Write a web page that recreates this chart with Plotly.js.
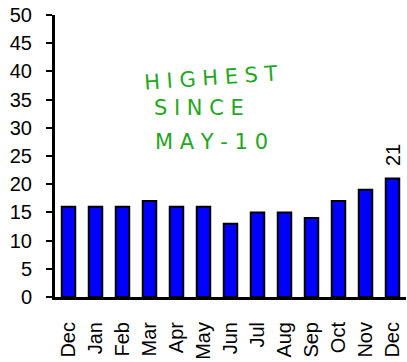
<!DOCTYPE html>
<html>
<head>
<meta charset="utf-8">
<script src="https://cdn.plot.ly/plotly-3.0.1.min.js"></script>
<style>html,body{margin:0;padding:0;background:#fff;}#chart{width:407px;height:362px;}</style>
</head>
<body>
<div id="chart"></div>
<script>
const months = ["Dec","Jan","Feb","Mar","Apr","May","Jun","Jul","Aug","Sep","Oct","Nov","Dec"];
const values = [16,16,16,17,16,16,13,15,15,14,17,19,21];
const yTicks = [0,5,10,15,20,25,30,35,40,45,50];
const noteLines = ["H I G H E S T","S I N C E","M A Y - 1 0"];
const labelIndex = 12;

const xs = months.map((m,i)=>i);

const trace = {
  type: 'bar',
  x: xs,
  y: values,
  marker: {color: '#0000ff', line: {color: '#000000', width: 2}},
  hoverinfo: 'none'
};

const noteFont = {family: 'DejaVu Sans, sans-serif', size: 21, color: '#1ea81e'};

const layout = {
  width: 407, height: 362,
  margin: {l: 55, r: 1, t: 15, b: 65, pad: 0},
  paper_bgcolor: '#fff', plot_bgcolor: '#fff',
  showlegend: false,
  bargap: 0.5,
  font: {family: 'Liberation Sans, Arial, sans-serif', size: 20, color: '#000'},
  xaxis: {
    tickmode: 'array', tickvals: xs, ticktext: months,
    tickangle: -90, ticks: '', range: [-0.5, 12.5],
    ticklabelstandoff: 14,
    showline: true, linecolor: '#000', linewidth: 3,
    showgrid: false, zeroline: false, fixedrange: true
  },
  yaxis: {
    range: [0, 50], tickmode: 'array', tickvals: yTicks,
    ticks: 'outside', ticklen: 6, tickwidth: 2, tickcolor: '#000',
    ticklabelstandoff: 10,
    showline: true, linecolor: '#000', linewidth: 3,
    showgrid: false, zeroline: false, fixedrange: true
  },
  annotations: [
    {x: xs[labelIndex], y: values[labelIndex], xref: 'x', yref: 'y',
     text: String(values[labelIndex]), textangle: -90, showarrow: false,
     yanchor: 'bottom', yshift: 10, font: {size: 20, color: '#000'}},
    {xref: 'paper', yref: 'paper', x: 0.245, y: 0.777, xanchor: 'left', yanchor: 'middle',
     text: noteLines[0], textangle: -4, showarrow: false, font: noteFont},
    {xref: 'paper', yref: 'paper', x: 0.275, y: 0.67, xanchor: 'left', yanchor: 'middle',
     text: noteLines[1], showarrow: false, font: noteFont},
    {xref: 'paper', yref: 'paper', x: 0.28, y: 0.55, xanchor: 'left', yanchor: 'middle',
     text: noteLines[2], showarrow: false, font: noteFont}
  ]
};

Plotly.newPlot('chart', [trace], layout, {displayModeBar: false, staticPlot: true});
</script>
</body>
</html>
